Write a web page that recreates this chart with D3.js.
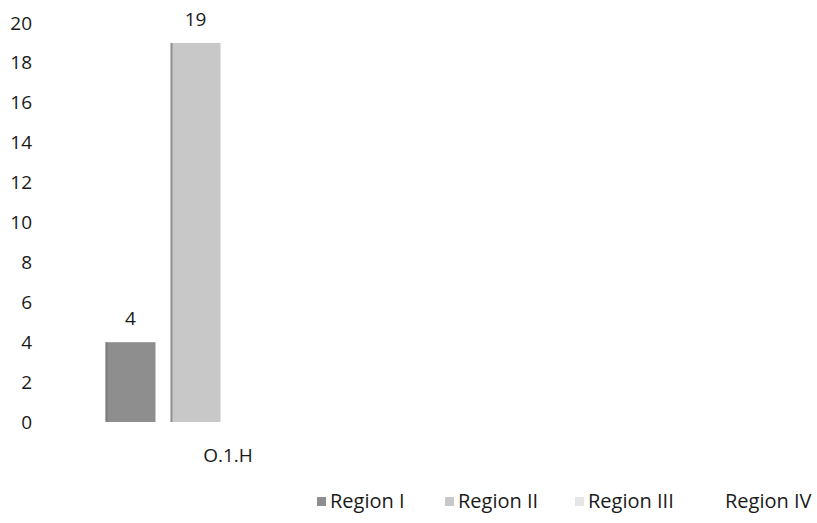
<!DOCTYPE html>
<html>
<head>
<meta charset="utf-8">
<script src="https://cdn.jsdelivr.net/npm/d3@7"></script>
<style>
  html, body { margin: 0; padding: 0; background: #fff; }
  svg { display: block; }
  text { font-family: "Open Sans", "Noto Sans", sans-serif; fill: #1a1a1a; }
</style>
</head>
<body>
<div id="chart"></div>
<script>
const categories = ["O.1.H"];
const regions = ["Region I", "Region II", "Region III", "Region IV"];
const regionI = [4];
const regionII = [19];
const regionIII = [null];
const regionIV = [null];
const yTicks = [0, 2, 4, 6, 8, 10, 12, 14, 16, 18, 20];
const colors = ["#8e8e8e", "#c8c8c8", "#e6e6e6", "#ffffff"];

const seriesValues = [regionI, regionII, regionIII, regionIV];

const W = 817, H = 523;
const svg = d3.select("#chart").append("svg").attr("width", W).attr("height", H);

const y = d3.scaleLinear().domain([0, 20]).range([422, 23]);
const x0 = d3.scaleBand().domain(categories).range([60, 396]).padding(0);
const x1 = d3.scaleBand().domain(regions).range([0, x0.bandwidth()])
  .paddingInner(0.2308).paddingOuter(0.7);

// y axis labels (no line, no ticks)
const yAxis = d3.axisLeft(y).tickValues(yTicks).tickSize(0).tickPadding(0);
const gy = svg.append("g").attr("transform", "translate(32,0)").call(yAxis);
gy.select(".domain").remove();
gy.selectAll("text").style("font-size", "19px").attr("fill", "#1a1a1a")
  .style("font-family", "'Open Sans', sans-serif");

// bars
const rows = [];
categories.forEach((c, ci) => {
  regions.forEach((r, ri) => {
    rows.push({ cat: c, region: r, value: seriesValues[ri][ci], color: colors[ri] });
  });
});
const valid = rows.filter(d => d.value != null);

svg.append("g").selectAll("rect").data(valid).join("rect")
  .attr("x", d => x0(d.cat) + x1(d.region))
  .attr("y", d => y(d.value))
  .attr("width", x1.bandwidth())
  .attr("height", d => y(0) - y(d.value))
  .attr("fill", d => d.color);

// left dark edge (scan shading)
svg.append("g").selectAll("rect").data(valid).join("rect")
  .attr("x", d => x0(d.cat) + x1(d.region))
  .attr("y", d => y(d.value))
  .attr("width", 2)
  .attr("height", d => y(0) - y(d.value))
  .attr("fill", "#6e6e6e").attr("opacity", 0.6);

// value labels
svg.append("g").selectAll("text").data(valid).join("text")
  .attr("x", d => x0(d.cat) + x1(d.region) + x1.bandwidth() / 2)
  .attr("y", d => y(d.value) - 17)
  .attr("text-anchor", "middle")
  .style("font-size", "19px")
  .text(d => d.value);

// category axis labels
const xAxis = d3.axisBottom(x0).tickSize(0).tickPadding(0);
const gx = svg.append("g").attr("transform", "translate(0,448)").call(xAxis);
gx.select(".domain").remove();
gx.selectAll("text").style("font-size", "19px").attr("fill", "#1a1a1a")
  .style("font-family", "'Open Sans', sans-serif");

// legend
const legendTextX = [330, 458, 588, 725];
const lg = svg.append("g").selectAll("g").data(regions).join("g")
  .attr("transform", (d, i) => `translate(${legendTextX[i]},508)`);
lg.append("rect").attr("x", -13).attr("y", -11).attr("width", 9).attr("height", 9)
  .attr("fill", (d, i) => colors[i]);
lg.append("text").attr("x", 0).attr("y", 0)
  .style("font-size", "20px")
  .text(d => d);
</script>
</body>
</html>
